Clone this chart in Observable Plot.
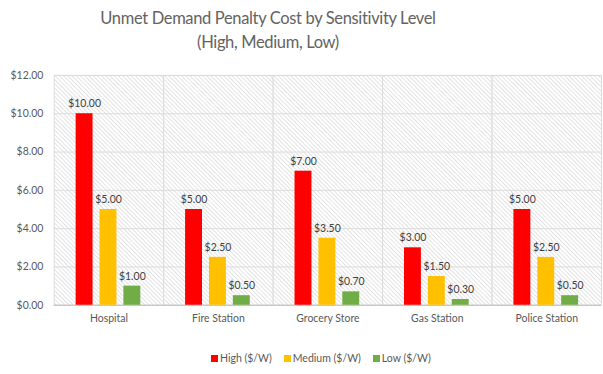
<!DOCTYPE html>
<html><head><meta charset="utf-8">
<script src="https://cdn.jsdelivr.net/npm/d3@7"></script>
<script src="https://cdn.jsdelivr.net/npm/@observablehq/plot@0.6"></script>
<style>
body{margin:0;overflow:hidden;background:#fff;font-family:Lato, "Open Sans", sans-serif;width:603px;height:374px;position:relative;}
#title{position:absolute;left:0;top:6px;width:536px;text-align:center;color:#636363;font-size:16.5px;line-height:24px;letter-spacing:-0.35px;}
#chart{position:absolute;left:0;top:60px;}
#legend{position:absolute;left:211px;top:352px;display:flex;gap:12px;font-size:10.5px;color:#595959;}
#legend span.item{display:flex;align-items:center;}
#legend span.sw{display:inline-block;width:7px;height:7px;margin-right:2px;}
</style></head><body>
<div id="title">Unmet Demand Penalty Cost by Sensitivity Level<br>(High, Medium, Low)</div>
<div id="chart"></div>
<div id="legend"></div>
<script>
const categories = ["Hospital", "Fire Station", "Grocery Store", "Gas Station", "Police Station"];
const levels = ["High ($/W)", "Medium ($/W)", "Low ($/W)"];
const highValues = [10, 5, 7, 3, 5];
const mediumValues = [5, 2.5, 3.5, 1.5, 2.5];
const lowValues = [1, 0.5, 0.7, 0.3, 0.5];
const colors = ["#FF0000", "#FFC000", "#70AD47"];
const yTicks = [0, 2, 4, 6, 8, 10, 12];

const series = [highValues, mediumValues, lowValues];
const data = categories.flatMap((c, i) => levels.map((l, j) => ({category: c, level: l, value: series[j][i]})));
const money = v => "$" + v.toFixed(2);

const chart = Plot.plot({
  width: 606, height: 275,
  marginLeft: 52, marginRight: 0, marginTop: 15, marginBottom: 29,
  style: {fontFamily: "Lato, 'Open Sans', sans-serif", fontSize: "10.5px", color: "#595959", background: "transparent"},
  fx: {domain: categories, padding: 0, label: null, axis: null},
  x: {domain: levels, paddingInner: 0.286, paddingOuter: 0.91, axis: null},
  y: {domain: [0, 12], label: null, axis: null},
  color: {domain: levels, range: colors},
  marks: [
    Plot.frame({fill: "url(#hatch)", stroke: "#dcdcdc"}),
    Plot.gridY(yTicks, {stroke: "#dcdcdc", strokeOpacity: 1}),
    Plot.ruleY([0], {stroke: "#bfbfbf"}),
    Plot.barY(data, {fx: "category", x: "level", y: "value", fill: "level"}),
    Plot.text(data, {fx: "category", x: "level", y: "value", text: d => money(d.value), dy: -10, fill: "#404040", fontSize: 10.5}),
    Plot.axisY(yTicks, {tickSize: 0, tickPadding: 11, tickFormat: money, label: null, fill: "#595959", facetAnchor: "left"}),
    Plot.axisFx({anchor: "bottom", tickSize: 0, tickPadding: 9, label: null, fill: "#595959"})
  ]
});

d3.select(chart).insert("defs", ":first-child").html(
  '<pattern id="hatch" patternUnits="userSpaceOnUse" width="3" height="3" patternTransform="rotate(45)">' +
  '<rect width="3" height="3" fill="#ffffff"/>' +
  '<line x1="0" y1="0.5" x2="3" y2="0.5" stroke="#e3e3e3" stroke-width="1"/></pattern>'
);
document.getElementById("chart").appendChild(chart);

const legend = document.getElementById("legend");
levels.forEach((l, i) => {
  const item = document.createElement("span");
  item.className = "item";
  const sw = document.createElement("span");
  sw.className = "sw";
  sw.style.background = colors[i];
  item.appendChild(sw);
  item.appendChild(document.createTextNode(l));
  legend.appendChild(item);
});
</script>
</body></html>
